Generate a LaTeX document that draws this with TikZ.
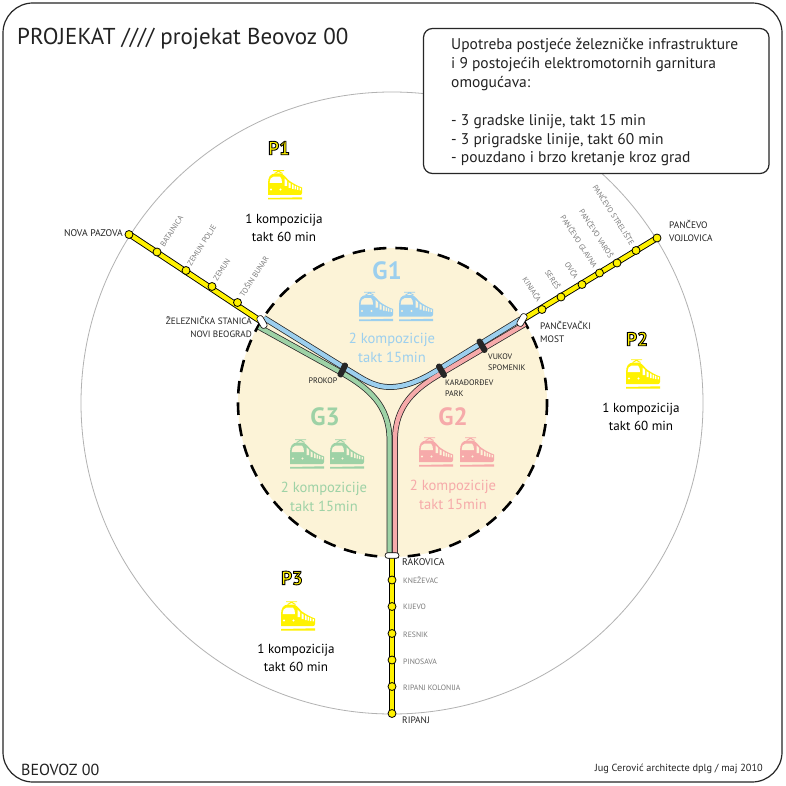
\documentclass[tikz,border=0pt]{standalone}
\usepackage{fontspec}
\setmainfont{PT Sans}
\usetikzlibrary{calc}
\definecolor{cream}{HTML}{FCF3D7}
\definecolor{ublue}{HTML}{9CCFEE}
\definecolor{ugreen}{HTML}{9ED2A6}
\definecolor{ured}{HTML}{F6AAAA}
\definecolor{uyellow}{HTML}{FFF200}
\definecolor{stgray}{HTML}{7A7A7A}
\definecolor{tdark}{HTML}{222222}
\newcommand{\outlined}[1]{\special{pdf:code 2 Tr 0.9 w 0 0 0 RG}#1\special{pdf:code 0 Tr}}
\tikzset{
 frame/.style={draw=black!85,line width=1.2pt,rounded corners=30pt},
 bigring/.style={draw=black!30,line width=0.8pt},
 dashring/.style={draw=black,line width=2.6pt,dash pattern=on 12.5pt off 9pt,fill=cream},
 yline/.style={draw=black,line width=6.2pt},
 yfill/.style={draw=uyellow,line width=4.4pt},
 ubase/.style={draw=black!85,line width=5.8pt},
 ucol/.style={line width=4.3pt},
 stationdot/.style={circle,draw=black,fill=uyellow,line width=0.8pt,minimum size=8pt,inner sep=0pt},
 stationlbl/.style={text=stgray,font=\fontsize{7.7}{9}\selectfont,inner sep=0pt},
 darklbl/.style={text=tdark,font=\fontsize{8}{11}\selectfont,inner sep=0pt,align=left},
 majorlbl/.style={text=tdark,font=\fontsize{9.4}{12.4}\selectfont,inner sep=0pt,align=left},
 infolbl/.style={font=\fontsize{13.1}{17.5}\selectfont,align=center,inner sep=0pt},
 ginfo/.style={font=\fontsize{14.6}{19}\selectfont,align=center,inner sep=0pt},
 glabel/.style={font=\bfseries\fontsize{25}{27}\selectfont,inner sep=0pt},
 plabel/.style={font=\bfseries\fontsize{19}{20}\selectfont,inner sep=0pt,text=uyellow},
 gate/.style={draw=black,fill=white,line width=0.6pt,rounded corners=2.7pt,inner sep=0pt},
 tick/.style={draw=black!85,line width=6pt,line cap=round},
 pics/trainicon/.style={code={
  \fill[#1] (-17,-1) .. controls (-17,-8) and (-15,-11.5) .. (-9,-11.5)
    -- (-4,-11.5) .. controls (0,-10) and (2,-6) .. (4,-4.5)
    .. controls (8,-1.5) and (13,1) .. (17,2.5) -- (17,8) .. controls (17,9.5) and (16,10) .. (15,10) -- (-17,10) -- cycle;
  \draw[#1,line width=0.9pt] (-12,-14.3) -- (-1,-14.3) (-10.5,-11.5) -- (-5,-14.3) (-2.5,-11.5) -- (-8,-14.3);
  \fill[#1] (-17,13) -- (17,12.3) -- (17,14.5) -- (-17,14.5) -- cycle;
  \fill[cream] (-15.3,-2) .. controls (-15,-6) and (-14,-8.3) .. (-11.5,-8.3) -- (-5,-8.3) .. controls (-3.5,-7) and (-3,-5) .. (-3,-2) -- cycle;
  \fill[cream] (-0.5,-6.5) -- (2,-4) -- (2,1) -- (-0.5,1) -- cycle;
  \fill[cream] (3.5,-2.8) -- (5.5,-1.5) -- (5.5,3) -- (3.5,3) -- cycle;
  \fill[cream] (7,-0.8) -- (8.5,0) -- (8.5,4) -- (7,4) -- cycle;
  \fill[cream] (9.7,0.6) -- (11,1.2) -- (11,4.5) -- (9.7,4.5) -- cycle;
  \fill[cream] (12.2,1.7) -- (13.4,2.2) -- (13.4,5) -- (12.2,5) -- cycle;
  \fill[cream] (14.6,2.7) -- (15.8,3.1) -- (15.8,5.3) -- (14.6,5.3) -- cycle;
  \fill[cream] (-14,4.5) circle (1.1) (-4.5,4.5) circle (1.1);
 }},
 pics/trainplain/.style={code={
  \fill[#1] (-17,-1) .. controls (-17,-8) and (-15,-11.5) .. (-9,-11.5)
    -- (-4,-11.5) .. controls (0,-10) and (2,-6) .. (4,-4.5)
    .. controls (8,-1.5) and (13,1) .. (17,2.5) -- (17,8) .. controls (17,9.5) and (16,10) .. (15,10) -- (-17,10) -- cycle;
  \draw[#1,line width=0.9pt] (-12,-14.3) -- (-1,-14.3) (-10.5,-11.5) -- (-5,-14.3) (-2.5,-11.5) -- (-8,-14.3);
  \fill[#1] (-17,13) -- (17,12.3) -- (17,14.5) -- (-17,14.5) -- cycle;
  \fill[white] (-15.3,-2) .. controls (-15,-6) and (-14,-8.3) .. (-11.5,-8.3) -- (-5,-8.3) .. controls (-3.5,-7) and (-3,-5) .. (-3,-2) -- cycle;
  \fill[white] (-0.5,-6.5) -- (2,-4) -- (2,1) -- (-0.5,1) -- cycle;
  \fill[white] (3.5,-2.8) -- (5.5,-1.5) -- (5.5,3) -- (3.5,3) -- cycle;
  \fill[white] (7,-0.8) -- (8.5,0) -- (8.5,4) -- (7,4) -- cycle;
  \fill[white] (9.7,0.6) -- (11,1.2) -- (11,4.5) -- (9.7,4.5) -- cycle;
  \fill[white] (12.2,1.7) -- (13.4,2.2) -- (13.4,5) -- (12.2,5) -- cycle;
  \fill[white] (14.6,2.7) -- (15.8,3.1) -- (15.8,5.3) -- (14.6,5.3) -- cycle;
  \fill[white] (-14,4.5) circle (1.1) (-4.5,4.5) circle (1.1);
 }}
}
\newcommand{\greenpath}{(259,327) -- (343,373.5) .. controls (368,388) and (389.5,405) .. (389.5,440) -- (389.5,554)}
\newcommand{\redpath}{(525,324) -- (441,373.5) .. controls (416,388) and (395,405) .. (395,440) -- (395,554)}
\newcommand{\bluepath}{(264,318) -- (343,367) .. controls (362,378) and (372,387) .. (390,387) .. controls (408,387) and (425,378) .. (441,368) -- (521,319)}
\begin{document}
\begin{tikzpicture}[x=1pt,y=-1pt]
\useasboundingbox (0,0) rectangle (786,786);
\fill[white] (0,0) rectangle (786,786);
\draw[frame] (3,3) rectangle (782,782);
\draw[bigring] (392,403) circle (311);
\draw[dashring] (392.5,402.5) circle (154.5);
\coordinate (nb) at (262,322);
\coordinate (pm) at (522,320);
\coordinate (ra) at (392,554);
\coordinate (np) at (129,234);
\coordinate (pv) at (657,238);
\coordinate (rp) at (392,714);
\foreach \a/\b in {np/nb,pv/pm,rp/ra}{
 \draw[yline] (\a) -- (\b);
 \draw[yfill] (\a) -- (\b);
}
\draw[ubase] \greenpath;
\draw[ubase] \redpath;
\draw[ubase] \bluepath;
\draw[ugreen,ucol] \greenpath;
\draw[ured,ucol] \redpath;
\draw[ublue,ucol] \bluepath;
\draw[tick] (345,365.5) -- (340.5,374.5);
\draw[tick] (439,366.5) -- (444,375);
\draw[tick] (479.5,341.5) -- (484.5,350);
\node[gate,minimum width=14pt,minimum height=5.5pt] (ragate) at (392,555.5) {};
\node[gate,minimum width=13.5pt,minimum height=6.5pt,rotate=-60] (nbgate) at (262,322) {};
\node[gate,minimum width=13.5pt,minimum height=6.5pt,rotate=60] (pmgate) at (522,320) {};
\node[stationdot] (n1) at (129,234.5) {};
\node[stationdot] (n2) at (157,252) {};
\node[stationdot] (n3) at (186,270.5) {};
\node[stationdot] (n4) at (212,286.5) {};
\node[stationdot] (n5) at (237.5,302.5) {};
\node[stationdot] (p1) at (542,309.5) {};
\node[stationdot] (p2) at (561,297) {};
\node[stationdot] (p3) at (582,284.5) {};
\node[stationdot] (p4) at (599.5,273) {};
\node[stationdot] (p5) at (617,263) {};
\node[stationdot] (p6) at (636,250.5) {};
\node[stationdot] (p7) at (657,238) {};
\node[stationdot] (b1) at (392,580) {};
\node[stationdot] (b2) at (392,606.5) {};
\node[stationdot] (b3) at (392,633.5) {};
\node[stationdot] (b4) at (392,660) {};
\node[stationdot] (b5) at (392,686.5) {};
\node[stationdot] (b6) at (392,713.5) {};
\node[stationlbl,rotate=57,anchor=west] at (162,246) {BATAJNICA};
\node[stationlbl,rotate=57,anchor=west] at (189,265) {ZEMUN POLJE};
\node[stationlbl,rotate=57,anchor=west] at (215,280) {ZEMUN};
\node[stationlbl,rotate=57,anchor=west] at (241,296) {TOŠIN BUNAR};
\node[stationlbl,rotate=-57,anchor=east] at (540,301) {KINJAČA};
\node[stationlbl,rotate=-57,anchor=east] at (559,288.5) {SEREŠ};
\node[stationlbl,rotate=-57,anchor=east] at (577,278) {OVČA};
\node[stationlbl,rotate=-57,anchor=east] at (596,267) {PANČEVO GLAVNA};
\node[stationlbl,rotate=-57,anchor=east] at (612,257) {PANČEVO VAROŠ};
\node[stationlbl,rotate=-57,anchor=east] at (633,244) {PANČEVO STRELIŠTE};
\node[stationlbl,anchor=west] at (403,580) {KNEŽEVAC};
\node[stationlbl,anchor=west] at (403,607) {KIJEVO};
\node[stationlbl,anchor=west] at (403,634.5) {RESNIK};
\node[stationlbl,anchor=west] at (403,662) {PINOSAVA};
\node[stationlbl,anchor=west] at (403,688) {RIPANJ KOLONIJA};
\node[majorlbl,font=\fontsize{9.7}{12.4}\selectfont,anchor=east] at (123,233) {NOVA PAZOVA};
\node[majorlbl,anchor=west] at (669,231) {PANČEVO\\VOJLOVICA};
\node[majorlbl,font=\fontsize{9.2}{12.4}\selectfont,anchor=east,align=right] at (252,327) {ŽELEZNIČKA STANICA\\NOVI BEOGRAD};
\node[majorlbl,anchor=west] at (540,332) {PANČEVAČKI\\MOST};
\node[majorlbl,font=\fontsize{9.7}{12.4}\selectfont,anchor=west] at (402,562) {RAKOVICA};
\node[majorlbl,anchor=west] at (402,720) {RIPANJ};
\node[darklbl,anchor=center] at (323,381) {PROKOP};
\node[darklbl,anchor=west] at (445,388) {KARAĐORĐEV\\PARK};
\node[darklbl,anchor=west] at (488,362.5) {VUKOV\\SPOMENIK};
\node[glabel,text=ublue] at (387,271) {G1};
\node[glabel,text=ugreen] at (325,417) {G3};
\node[glabel,text=ured] at (453,417) {G2};
\pic at (376,306.5) {trainicon=ublue};
\pic at (416,306.5) {trainicon=ublue};
\pic at (307,454) {trainicon=ugreen};
\pic at (347,454) {trainicon=ugreen};
\pic at (436,452) {trainicon=ured};
\pic at (477,452) {trainicon=ured};
\node[ginfo,text=ublue] at (392,348) {2 kompozicije\\takt 15min};
\node[ginfo,text=ugreen] at (324,497) {2 kompozicije\\takt 15min};
\node[ginfo,text=ured] at (453,495) {2 kompozicije\\takt 15min};
\node[plabel] (pa) at (279,148) {\outlined{P1}};
\node[plabel] (pb) at (637,339) {\outlined{P2}};
\node[plabel] (pc) at (292,578) {\outlined{P3}};
\pic at (285,185) {trainplain=uyellow};
\pic at (643,374) {trainplain=uyellow};
\pic at (298,616) {trainplain=uyellow};
\node[infolbl] at (284,228) {1 kompozicija\\takt 60 min};
\node[infolbl] at (641,417) {1 kompozicija\\takt 60 min};
\node[infolbl] at (296,658) {1 kompozicija\\takt 60 min};
\node[anchor=west,inner sep=0pt,text=tdark,font=\fontsize{23}{25}\selectfont] at (17,39) {PROJEKAT //// projekat Beovoz 00};
\node[anchor=west,inner sep=0pt,text=tdark,font=\fontsize{16}{17}\selectfont] at (21,770) {BEOVOZ 00};
\node[anchor=east,inner sep=0pt,text=tdark,font=\fontsize{10.3}{12}\selectfont] at (763,769) {Jug Cerović architecte dplg / maj 2010};
\draw[black!85,line width=1.2pt,fill=white,rounded corners=9pt] (423.5,28.5) rectangle (769,173.5);
\node[anchor=north west,align=left,inner sep=0pt,text=tdark,font=\fontsize{15.5}{18.9}\selectfont] (boxtxt) at (451,38) {Upotreba postjeće železničke infrastrukture\\i 9 postojećih elektromotornih garnitura\\omogućava:\\[18.9pt]- 3 gradske linije, takt 15 min\\- 3 prigradske linije, takt 60 min\\- pouzdano i brzo kretanje kroz grad};
\end{tikzpicture}
\end{document}
